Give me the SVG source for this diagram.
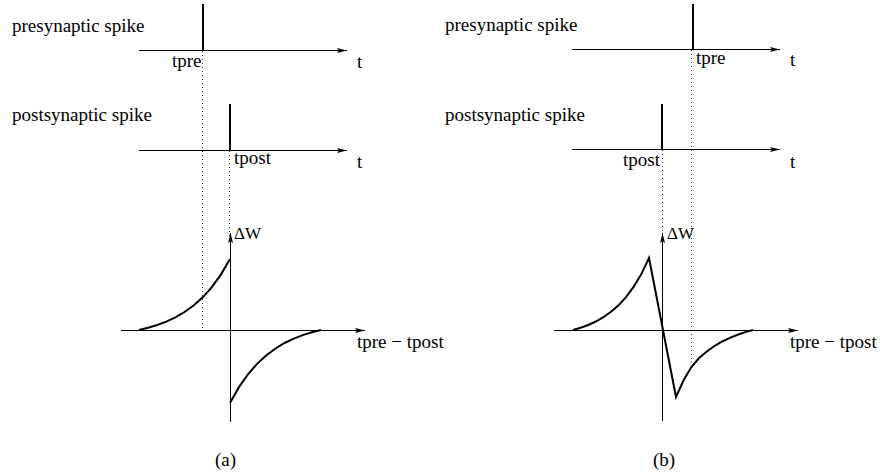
<svg xmlns="http://www.w3.org/2000/svg" width="880" height="472" viewBox="0 0 880 472">
<style>
text{font-family:'Liberation Serif','Times New Roman',serif;font-size:19px;fill:#000}
.dw{font-size:17px}
.axis{stroke:#000;stroke-width:1;fill:none}
.arr{marker-end:url(#ah)}
.spike{stroke:#000;stroke-width:2;fill:none}
.dot{stroke:#333;stroke-width:1;stroke-dasharray:1 3;fill:none}
.curve{stroke:#000;stroke-width:2;fill:none;stroke-linejoin:miter}
</style>
<defs>
<marker id="ah" markerUnits="userSpaceOnUse" markerWidth="12" markerHeight="8" refX="10" refY="3" orient="auto" overflow="visible">
<path d="M0,0.5 L10,3 L0,5.5 L2,3 Z" fill="#000"/>
</marker>
</defs>
<rect width="880" height="472" fill="#fff"/>

<g id="panel-a">
<g id="a-pre">
<text x="12" y="32">presynaptic spike</text>
<line class="spike" x1="203" y1="4" x2="203" y2="50"/>
<text x="172" y="67">tpre</text>
<text x="357" y="68">t</text>
</g>
<g id="a-post">
<text x="12" y="121">postsynaptic spike</text>
<line class="spike" x1="230" y1="104" x2="230" y2="150"/>
<text x="234" y="164">tpost</text>
<text x="357" y="168">t</text>
</g>
<g id="a-stdp">
<text class="dw" x="234" y="239">ΔW</text>
<text x="357" y="348">tpre − tpost</text>
<polyline class="curve" points="139,330 148.1,327.8 157.2,325 166.3,321.6 175.4,317.3 184.5,312 193.6,305.5 202.7,297.3 211.8,287.2 220.9,274.6 230,259"/>
<polyline class="curve" points="230,403 239.1,386.9 248.2,374 257.3,363.6 266.4,355.2 275.5,348.5 284.6,343 293.7,338.6 302.8,335.1 311.9,332.3 321,330"/>
</g>
<text id="a-label" x="215" y="466">(a)</text>
</g>

<g id="panel-b">
<g id="b-pre">
<text x="445" y="31">presynaptic spike</text>
<line class="spike" x1="693" y1="4" x2="693" y2="49"/>
<text x="696" y="64">tpre</text>
<text x="790" y="66">t</text>
</g>
<g id="b-post">
<text x="445" y="121">postsynaptic spike</text>
<line class="spike" x1="662" y1="104" x2="662" y2="149"/>
<text x="623" y="166">tpost</text>
<text x="790" y="168">t</text>
</g>
<g id="b-stdp">
<text class="dw" x="667" y="239">ΔW</text>
<text x="790" y="348">tpre − tpost</text>
<polyline class="curve" points="573,330 580.6,327.8 588.2,325 595.8,321.5 603.4,317.2 611,311.8 618.6,305.2 626.2,296.9 633.8,286.6 641.4,273.9 649,258 676,397 683.7,380 691.4,367 699.1,358 706.8,351.5 714.5,346 722.2,341.5 729.9,337.8 737.6,334.7 745.3,332.1 753,330"/>
</g>
<text id="b-label" x="653" y="466">(b)</text>
</g>

<g id="connectors">
<line class="dot" x1="202.5" y1="51" x2="202.5" y2="330"/>
<line class="dot" x1="229.5" y1="151" x2="229.5" y2="236"/>
<line class="dot" x1="691.5" y1="50" x2="691.5" y2="366"/>
<line class="dot" x1="662.5" y1="150" x2="662.5" y2="236"/>
<line class="axis arr" x1="139" y1="50.5" x2="347" y2="50.5"/>
<line class="axis arr" x1="139" y1="150.5" x2="347" y2="150.5"/>
<line class="axis arr" x1="121" y1="330.5" x2="365" y2="330.5"/>
<line class="axis arr" x1="230.5" y1="422" x2="230.5" y2="233"/>
<line class="axis arr" x1="572" y1="49.5" x2="780" y2="49.5"/>
<line class="axis arr" x1="572" y1="149.5" x2="780" y2="149.5"/>
<line class="axis arr" x1="554" y1="330.5" x2="798" y2="330.5"/>
<line class="axis arr" x1="662.5" y1="421" x2="662.5" y2="233"/>
</g>
</svg>
